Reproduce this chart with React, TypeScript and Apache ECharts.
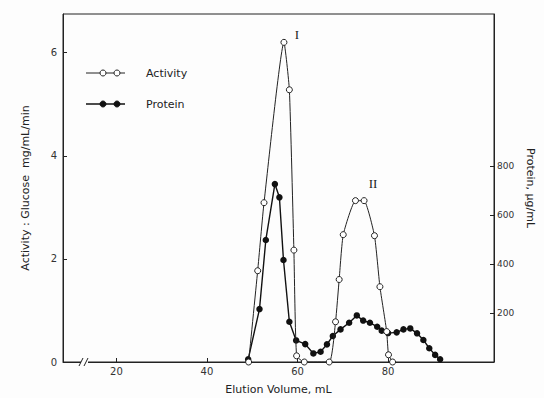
import React, { useEffect, useRef } from "react";
import * as echarts from "echarts";

// Elution volume (mL) and activity (mg/mL/min glucose)
const activityX = [49.2, 51.2, 52.6, 57.0, 58.2, 59.2, 59.8, 61.5, 67.0, 68.4, 69.2, 70.1, 72.8, 74.7, 77.0, 78.2, 79.7, 80.1, 81.0];
const activityY = [0, 1.77, 3.09, 6.2, 5.28, 2.17, 0.12, 0, 0, 0.78, 1.6, 2.47, 3.13, 3.13, 2.45, 1.46, 0.59, 0.14, 0];

// Elution volume (mL) and protein (µg/mL)
const proteinX = [49.1, 51.6, 53.0, 55.0, 56.0, 56.9, 58.2, 59.7, 61.7, 63.5, 65.1, 66.5, 67.8, 69.5, 71.4, 73.1, 74.5, 76.0, 77.6, 78.6, 80.0, 81.9, 83.4, 84.9, 86.4, 87.8, 89.1, 90.4, 91.5];
const proteinY = [11, 216, 498, 726, 672, 416, 164, 88, 73, 35, 42, 72, 106, 133, 160, 190, 169, 160, 144, 128, 118, 121, 133, 137, 117, 90, 56, 29, 11];

const xTicks = [20, 40, 60, 80];
const activityTicks = [0, 2, 4, 6];
const proteinTicks = [200, 400, 600, 800];
const peakLabels = [
  { x: 57.0, y: 6.2, text: "I" },
  { x: 74.7, y: 3.13, text: "II" },
];

const INK = "#222";
const FONT = "DejaVu Sans";

export default function App() {
  const ref = useRef<HTMLDivElement>(null);
  useEffect(() => {
    document.body.style.margin = "0";
    const chart = echarts.init(ref.current!, undefined, { renderer: "svg" });
    const actData = activityX.map((x, i) => [x, activityY[i]]);
    const protData = proteinX.map((x, i) => [x, proteinY[i]]);
    chart.setOption({
      animation: false,
      backgroundColor: "#fdfdfd",
      grid: {
        left: 63,
        right: 50,
        top: 14,
        bottom: 36,
        show: true,
        borderColor: INK,
        borderWidth: 1,
        outerBoundsMode: "none",
      },
      xAxis: {
        type: "value",
        min: 8.2,
        max: 103.4,
        name: "Elution Volume, mL",
        nameLocation: "middle",
        nameGap: 22,
        nameTextStyle: { fontFamily: FONT, fontSize: 11, color: INK },
        axisLine: { show: true, lineStyle: { color: INK, width: 1 } },
        axisTick: { show: true, inside: true, length: 4, customValues: xTicks, lineStyle: { color: INK } },
        axisLabel: { customValues: xTicks, fontFamily: FONT, fontSize: 10, color: "#333", margin: 4 },
        splitLine: { show: false },
      },
      yAxis: [
        {
          type: "value",
          min: 0,
          max: 6.75,
          position: "left",
          name: "Activity : Glucose  mg/mL/min",
          nameLocation: "middle",
          nameGap: 32,
          nameTextStyle: { fontFamily: FONT, fontSize: 11, color: INK },
          axisLine: { show: true, lineStyle: { color: INK } },
          axisTick: { show: true, inside: true, length: 4, customValues: activityTicks, lineStyle: { color: INK } },
          axisLabel: { customValues: activityTicks, fontFamily: FONT, fontSize: 10, color: "#333", margin: 6 },
          splitLine: { show: false },
        },
        {
          type: "value",
          min: 0,
          max: 1420,
          position: "right",
          name: "Protein, µg/mL",
          nameLocation: "middle",
          nameRotate: -90,
          nameGap: 30,
          nameTextStyle: { fontFamily: FONT, fontSize: 11, color: INK },
          axisLine: { show: true, lineStyle: { color: INK } },
          axisTick: { show: true, inside: true, length: 4, customValues: proteinTicks, lineStyle: { color: INK } },
          axisLabel: { customValues: proteinTicks, fontFamily: FONT, fontSize: 9, color: "#333", margin: 3 },
          splitLine: { show: false },
        },
      ],
      series: [
        {
          name: "Protein",
          type: "line",
          yAxisIndex: 1,
          data: protData,
          symbol: "circle",
          symbolSize: 6.5,
          z: 2,
          itemStyle: { color: "#111" },
          lineStyle: { color: "#111", width: 1.4 },
        },
        {
          name: "Activity",
          type: "line",
          yAxisIndex: 0,
          data: actData,
          symbol: "circle",
          symbolSize: 6,
          smooth: 0.15,
          z: 3,
          itemStyle: { color: "#fff", borderColor: INK, borderWidth: 1 },
          lineStyle: { color: INK, width: 1 },
          markPoint: {
            symbol: "circle",
            symbolSize: 0,
            silent: true,
            data: peakLabels.map((p) => ({
              coord: [p.x, p.y],
              label: {
                show: true,
                formatter: p.text,
                position: "inside",
                offset: p.text === "I" ? [13, -8] : [9, -17],
                fontFamily: "Liberation Serif",
                fontSize: 13,
                color: INK,
              },
            })),
          },
        },
      ],
      graphic: [
        // axis break mark
        { type: "rect", shape: { x: 81, y: 360, width: 7, height: 4 }, style: { fill: "#fdfdfd" }, z: 100 },
        { type: "line", shape: { x1: 79, y1: 366, x2: 83, y2: 358 }, style: { stroke: INK, lineWidth: 1 }, z: 101 },
        { type: "line", shape: { x1: 84, y1: 366, x2: 88, y2: 358 }, style: { stroke: INK, lineWidth: 1 }, z: 101 },
        // legend: Activity
        { type: "line", shape: { x1: 86, y1: 73, x2: 125, y2: 73 }, style: { stroke: INK, lineWidth: 1 }, z: 100 },
        { type: "circle", shape: { cx: 103, cy: 73, r: 3 }, style: { fill: "#fff", stroke: INK, lineWidth: 1 }, z: 101 },
        { type: "circle", shape: { cx: 117, cy: 73, r: 3 }, style: { fill: "#fff", stroke: INK, lineWidth: 1 }, z: 101 },
        { type: "text", x: 146, y: 73, style: { text: "Activity", fontFamily: FONT, fontSize: 11, fill: INK, verticalAlign: "middle" }, z: 101 },
        // legend: Protein
        { type: "line", shape: { x1: 86, y1: 104, x2: 125, y2: 104 }, style: { stroke: "#111", lineWidth: 1.4 }, z: 100 },
        { type: "circle", shape: { cx: 103, cy: 104, r: 3 }, style: { fill: "#111", stroke: "#111", lineWidth: 1 }, z: 101 },
        { type: "circle", shape: { cx: 117, cy: 104, r: 3 }, style: { fill: "#111", stroke: "#111", lineWidth: 1 }, z: 101 },
        { type: "text", x: 146, y: 104, style: { text: "Protein", fontFamily: FONT, fontSize: 11, fill: INK, verticalAlign: "middle" }, z: 101 },
      ],
    });
    return () => chart.dispose();
  }, []);
  return <div ref={ref} style={{ position: "absolute", left: 0, top: 0, width: 544, height: 398 }} />;
}
